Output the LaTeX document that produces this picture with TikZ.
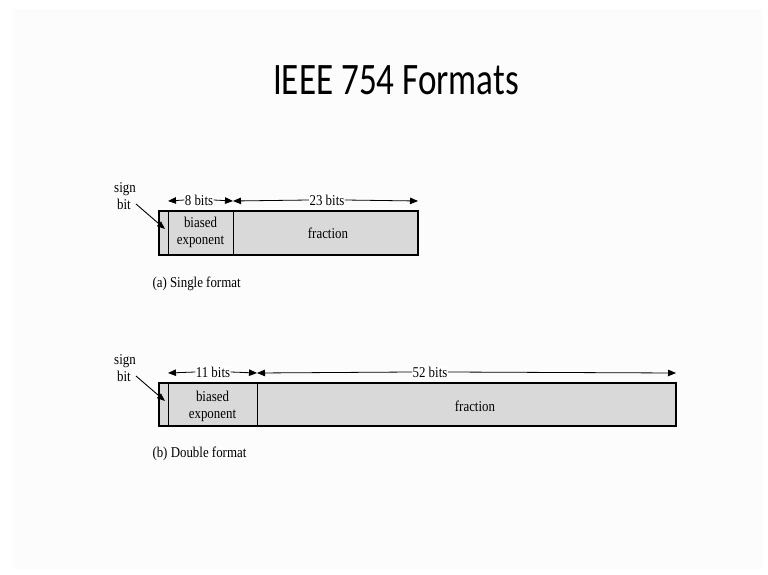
\documentclass[tikz,border=0pt]{standalone}
\usepackage{fontspec}
\setmainfont{Liberation Serif}[FakeStretch=0.86]
\newfontfamily\titlefont{Carlito}[FakeStretch=0.78]
\usetikzlibrary{arrows.meta}
\begin{document}
\begin{tikzpicture}[x=1pt,y=-1pt,
  fld/.style={draw=black,line width=1.4pt,fill=black!15,inner sep=0pt,outer sep=0pt},
  dv/.style={draw=black,line width=1pt},
  lbl/.style={font=\fontsize{15}{15}\selectfont,inner sep=0.3pt},
  dim/.style={line width=0.8pt,-{Triangle[length=8pt,width=6.5pt]}},
  ptr/.style={line width=0.9pt,-{Triangle[length=8pt,width=6pt]}}]
\useasboundingbox (0,0) rectangle (768,575);
\fill[white] (0,0) rectangle (768,575);
\fill[black!1] (12,9) rectangle (762,569);
\node (title) at (396,80) {\titlefont\fontsize{45}{45}\selectfont IEEE 754 Formats};

% ---------- single ----------
\node[fld,minimum width=259pt,minimum height=44pt] (sbox) at (288.5,233) {};
\coordinate (sA) at (168,211); \coordinate (sAb) at (168,255);
\coordinate (sB) at (233,211); \coordinate (sBb) at (233,255);
\draw[dv] (sA) -- (sAb);
\draw[dv] (sB) -- (sBb);
\node[lbl] (sexp1) at (200.5,222) {biased};
\node[lbl] (sexp2) at (200.5,242) {exponent};
\node[lbl] (sfrac) at (328,233) {fraction};
\coordinate (sa1) at (168,201); \coordinate (sa2) at (233,201); \coordinate (sa3) at (418,201);
\node[lbl,fill=white] (s8) at (199,200) {8 bits};
\node[lbl,fill=white] (s23) at (327,200) {23 bits};
\draw[dim] (s8.west) -- (sa1);
\draw[dim] (s8.east) -- (sa2);
\draw[dim] (s23.west) -- (sa2);
\draw[dim] (s23.east) -- (sa3);
\node[lbl] (ssign) at (125,189) {sign};
\node[lbl] (sbit) at (124,204) {bit};
\coordinate (sptr) at (165,229);
\draw[ptr] (136,204) -- (sptr);
\node[lbl,anchor=west] (scap) at (152,284) {(a) Single format};

% ---------- double ----------
\node[fld,minimum width=517pt,minimum height=43pt] (dbox) at (417.5,404.5) {};
\coordinate (dA) at (168,383); \coordinate (dAb) at (168,426);
\coordinate (dB) at (257,383); \coordinate (dBb) at (257,426);
\draw[dv] (dA) -- (dAb);
\draw[dv] (dB) -- (dBb);
\node[lbl] (dexp1) at (212.5,396) {biased};
\node[lbl] (dexp2) at (212.5,416) {exponent};
\node[lbl] (dfrac) at (475,406) {fraction};
\coordinate (da1) at (168,373); \coordinate (da2) at (257,373); \coordinate (da3) at (676,373);
\node[lbl,fill=white] (d11) at (213,372) {11 bits};
\node[lbl,fill=white] (d52) at (430,372) {52 bits};
\draw[dim] (d11.west) -- (da1);
\draw[dim] (d11.east) -- (da2);
\draw[dim] (d52.west) -- (da2);
\draw[dim] (d52.east) -- (da3);
\node[lbl] (dsign) at (125,361) {sign};
\node[lbl] (dbit) at (124,376) {bit};
\coordinate (dptr) at (165,401);
\draw[ptr] (136,376) -- (dptr);
\node[lbl,anchor=west] (dcap) at (152,454) {(b) Double format};
\end{tikzpicture}
\end{document}
